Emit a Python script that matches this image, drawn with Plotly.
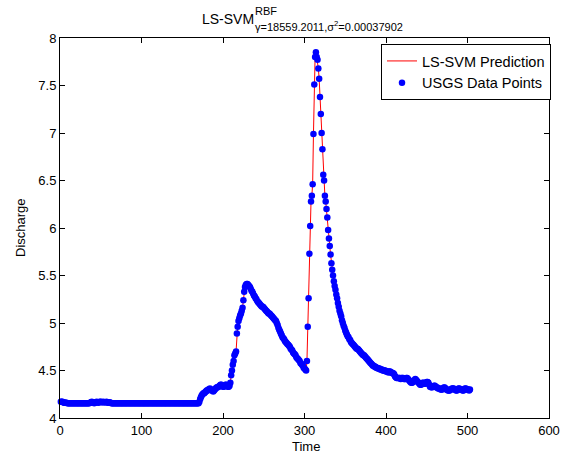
import plotly.graph_objects as go

# Discharge values, one per time step starting at t=1
flat_part = [
    4.17, 4.17, 4.17, 4.165, 4.16, 4.16, 4.16, 4.16, 4.155, 4.155,
    4.155, 4.155, 4.155, 4.155, 4.155, 4.155, 4.155, 4.155, 4.155, 4.155,
    4.155, 4.155, 4.155, 4.155, 4.155, 4.155, 4.155, 4.155, 4.155, 4.155,
    4.155, 4.155, 4.155, 4.155, 4.155, 4.155, 4.16, 4.165, 4.17, 4.165,
    4.16, 4.155, 4.16, 4.165, 4.17, 4.165, 4.16, 4.165, 4.17, 4.17,
    4.165, 4.165, 4.17, 4.165, 4.165, 4.165, 4.17, 4.165, 4.16, 4.16,
    4.165, 4.16, 4.155, 4.155, 4.155, 4.155, 4.155, 4.155, 4.155, 4.155,
    4.155, 4.155, 4.155, 4.155, 4.155, 4.155, 4.155, 4.155, 4.155, 4.155,
    4.155, 4.155, 4.155, 4.155, 4.155, 4.155, 4.155, 4.155, 4.155, 4.155,
    4.155, 4.155, 4.155, 4.155, 4.155, 4.155, 4.155, 4.155, 4.155, 4.155,
    4.155, 4.155, 4.155, 4.155, 4.155, 4.155, 4.155, 4.155, 4.155, 4.155,
    4.155, 4.155, 4.155, 4.155, 4.155, 4.155, 4.155, 4.155, 4.155, 4.155,
    4.155, 4.155, 4.155, 4.155, 4.155, 4.155, 4.155, 4.155, 4.155, 4.155,
    4.155, 4.155, 4.155, 4.155, 4.155, 4.155, 4.155, 4.155, 4.155, 4.155,
    4.155, 4.155, 4.155, 4.155, 4.155, 4.155, 4.155, 4.155, 4.155, 4.155,
    4.155, 4.155, 4.155, 4.155, 4.155, 4.155, 4.155, 4.155, 4.155, 4.155,
    4.155, 4.155, 4.155, 4.155, 4.155, 4.155, 4.155, 4.155, 4.155, 4.155,
]
first_rise = [
    4.17, 4.20, 4.22, 4.24, 4.25, 4.26, 4.26, 4.27, 4.28, 4.29,
    4.29, 4.30, 4.30, 4.31, 4.30, 4.29, 4.29, 4.28, 4.29, 4.30,
    4.31, 4.32, 4.32, 4.33, 4.33, 4.34, 4.35, 4.35, 4.34, 4.33,
    4.33, 4.34, 4.35, 4.35, 4.34, 4.33, 4.33, 4.34, 4.37,
]
first_peak = [
    4.45, 4.50, 4.56, 4.60, 4.66, 4.68, 4.70, 4.89, 4.96, 5.02,
    5.05, 5.08, 5.10, 5.13, 5.16, 5.24, 5.33, 5.38, 5.40, 5.41,
    5.41, 5.40, 5.39, 5.38,
]
first_recession = [
    5.36, 5.34, 5.33, 5.31, 5.29, 5.28, 5.26, 5.25, 5.23, 5.22,
    5.21, 5.20, 5.19, 5.18, 5.17, 5.17, 5.16, 5.15, 5.14, 5.13,
    5.12, 5.11, 5.10, 5.10, 5.09, 5.08, 5.07, 5.06, 5.05, 5.04,
    5.03, 5.02, 5.00, 4.98, 4.95, 4.93, 4.91, 4.89, 4.87, 4.85,
    4.84, 4.83, 4.81, 4.80, 4.79, 4.78, 4.77, 4.76, 4.75, 4.73,
    4.72, 4.71, 4.69, 4.68, 4.67, 4.66, 4.64, 4.63, 4.62, 4.61,
    4.60, 4.58, 4.57, 4.56, 4.55, 4.53, 4.52, 4.51, 4.50,
]
second_rise = [4.60, 4.96, 5.26, 5.73, 6.02, 6.28, 6.34, 6.46, 6.99, 7.51, 7.80, 7.85]
second_recession = [
    7.80, 7.77, 7.68, 7.57, 7.38, 7.20, 7.00, 6.83, 6.56, 6.50,
    6.34, 6.28, 6.20, 6.11, 5.98, 5.89, 5.81, 5.72, 5.63, 5.56,
    5.50, 5.44, 5.39, 5.35, 5.30, 5.26, 5.21, 5.17, 5.13, 5.10,
    5.07, 5.03, 5.00, 4.97, 4.95, 4.92, 4.90, 4.88, 4.86, 4.85,
    4.83, 4.82, 4.80, 4.79, 4.78, 4.77, 4.76, 4.75, 4.74, 4.73,
    4.73, 4.72, 4.71, 4.70, 4.69, 4.68, 4.67, 4.66, 4.66, 4.65,
    4.64, 4.63, 4.62, 4.61, 4.60, 4.59, 4.58, 4.57, 4.56, 4.55,
    4.55, 4.54, 4.54, 4.53, 4.53, 4.52, 4.52, 4.52, 4.51, 4.51,
    4.51, 4.50, 4.50, 4.50, 4.50, 4.49,
]
tail = [
    4.49, 4.49, 4.48, 4.49, 4.49, 4.48, 4.48, 4.47, 4.47, 4.46,
    4.44, 4.43, 4.42, 4.42, 4.42, 4.42, 4.42, 4.41, 4.42, 4.42,
    4.42, 4.41, 4.41, 4.41, 4.42, 4.42, 4.41, 4.40, 4.39, 4.38,
    4.37, 4.37, 4.38, 4.39, 4.40, 4.41, 4.40, 4.39, 4.38, 4.37,
    4.36, 4.35, 4.35, 4.36, 4.37, 4.37, 4.36, 4.36, 4.37, 4.38,
    4.38, 4.37, 4.35, 4.33, 4.33, 4.32, 4.33, 4.33, 4.34, 4.34,
    4.33, 4.32, 4.32, 4.31, 4.31, 4.31, 4.30, 4.30, 4.30, 4.31,
    4.32, 4.32, 4.31, 4.30, 4.30, 4.29, 4.29, 4.29, 4.30, 4.30,
    4.31, 4.31, 4.31, 4.30, 4.30, 4.29, 4.29, 4.30, 4.31, 4.31,
    4.30, 4.30, 4.30, 4.29, 4.29, 4.30, 4.31, 4.31, 4.30, 4.30,
    4.30, 4.29, 4.30,
]

discharge = flat_part + first_rise + first_peak + first_recession + second_rise + second_recession + tail
time = list(range(1, len(discharge) + 1))

x_ticks = [0, 100, 200, 300, 400, 500, 600]
y_ticks = [4, 4.5, 5, 5.5, 6, 6.5, 7, 7.5, 8]

FONT = "Liberation Sans, Arial, sans-serif"

fig = go.Figure()
fig.add_trace(go.Scatter(
    x=time, y=discharge, mode="lines", name="LS-SVM Prediction",
    line=dict(color="red", width=1),
))
fig.add_trace(go.Scatter(
    x=time, y=discharge, mode="markers", name="USGS Data Points",
    marker=dict(color="#0000ff", size=6.5, line=dict(width=0)),
    cliponaxis=False,
))

L, R, T, B = 60, 24, 38, 39
W, H = 573, 457
pw, ph = W - L - R, H - T - B

def px(x):
    return (x - L) / pw

def py(y):
    return (H - B - y) / ph

axis_common = dict(
    showline=True, linecolor="black", linewidth=1, mirror="ticks",
    ticks="inside", ticklen=5, tickcolor="black", showgrid=False, zeroline=False,
    tickfont=dict(family=FONT, size=13, color="black"),
)

fig.update_layout(
    width=W, height=H,
    margin=dict(l=L, r=R, t=T, b=B, autoexpand=False),
    paper_bgcolor="white", plot_bgcolor="white",
    font=dict(family=FONT, size=13, color="black"),
    xaxis=dict(range=[0, 600], tickvals=x_ticks, ticktext=[str(v) for v in x_ticks], **axis_common),
    yaxis=dict(range=[4, 8], tickvals=y_ticks, ticktext=[f"{v:g}" for v in y_ticks], **axis_common),
    showlegend=True,
    legend=dict(
        x=px(551), y=py(44), xanchor="right", yanchor="top",
        bordercolor="black", borderwidth=1, bgcolor="white",
        font=dict(family=FONT, size=14.5, color="black"),
        tracegroupgap=0,
    ),
    annotations=[
        dict(text="LS-SVM", x=px(256), y=py(19), xref="paper", yref="paper",
             xanchor="right", yanchor="middle", showarrow=False,
             font=dict(family=FONT, size=14, color="black")),
        dict(text="RBF", x=px(253), y=py(11), xref="paper", yref="paper",
             xanchor="left", yanchor="middle", showarrow=False,
             font=dict(family=FONT, size=11, color="black")),
        dict(text="γ=18559.2011,σ<sup>2</sup>=0.00037902", x=px(253), y=py(26),
             xref="paper", yref="paper", xanchor="left", yanchor="middle",
             showarrow=False, font=dict(family=FONT, size=11, color="black")),
        dict(text="Time", x=px(306), y=py(447), xref="paper", yref="paper",
             xanchor="center", yanchor="middle", showarrow=False,
             font=dict(family=FONT, size=13, color="black")),
        dict(text="Discharge", x=px(20), y=py(228), xref="paper", yref="paper",
             xanchor="center", yanchor="middle", showarrow=False, textangle=-90,
             font=dict(family=FONT, size=13, color="black")),
    ],
)

fig.write_html(
    "out.html",
    config={"displayModeBar": False},
    post_script="document.body.style.margin='0';document.body.style.overflow='hidden';",
)
